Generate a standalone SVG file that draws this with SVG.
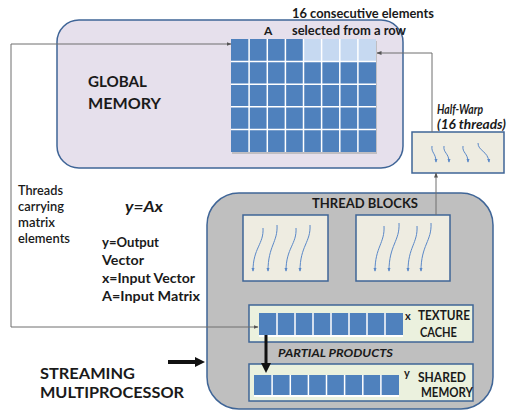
<svg xmlns="http://www.w3.org/2000/svg" width="507" height="414" viewBox="0 0 507 414">
<style>
.t{font-family:Lato,"Liberation Sans",sans-serif;fill:#1a1a1a}
.b{font-weight:bold}
.i{font-style:italic}
.conn{fill:none;stroke:#6f6f6f;stroke-width:1}
.sq{fill:none;stroke:#5a88c8;stroke-width:1}
.cell{fill:#4f81bd}
.grid{stroke:#fff;stroke-width:1.5}
.box{fill:#eeece1;stroke:#3f6597;stroke-width:1.5}
.green{fill:#ebf1de;stroke:#3f6597;stroke-width:1.5}
</style>
<defs>
<marker id="arr" viewBox="0 0 10 10" refX="9" refY="5" markerWidth="5" markerHeight="5" orient="auto-start-reverse" markerUnits="userSpaceOnUse"><path d="M0,1 L10,5 L0,9z" fill="#555"/></marker>
<marker id="sarr" viewBox="0 0 10 10" refX="8" refY="5" markerWidth="4" markerHeight="4" orient="auto" markerUnits="userSpaceOnUse"><path d="M0,1 L10,5 L0,9z" fill="#5a88c8"/></marker>
<marker id="barr" viewBox="0 0 10 10" refX="5" refY="5" markerWidth="10" markerHeight="10" orient="auto" markerUnits="userSpaceOnUse"><path d="M0,0 L10,5 L0,10z" fill="#111"/></marker>
</defs>
<rect width="507" height="414" fill="#fff"/>

<g id="global-memory">
<rect x="57" y="20" width="346" height="148" rx="22" fill="#e6e0ec" stroke="#3f6597" stroke-width="1.5"/>
<text class="t b" x="88" y="87" font-size="16" textLength="59" lengthAdjust="spacingAndGlyphs">GLOBAL</text>
<text class="t b" x="88" y="109" font-size="16" textLength="73" lengthAdjust="spacingAndGlyphs">MEMORY</text>
</g>

<g id="matrix-A">
<rect x="232" y="41" width="145" height="113" fill="#a6a6a6" opacity="0.6"/>
<rect class="cell" x="231" y="39" width="145" height="113"/>
<rect x="303.5" y="39" width="72.5" height="22.6" fill="#c6d9f1"/>
<g class="grid">
<line x1="249.1" y1="39" x2="249.1" y2="152"/>
<line x1="267.3" y1="39" x2="267.3" y2="152"/>
<line x1="285.4" y1="39" x2="285.4" y2="152"/>
<line x1="303.5" y1="39" x2="303.5" y2="152"/>
<line x1="321.6" y1="39" x2="321.6" y2="152"/>
<line x1="339.8" y1="39" x2="339.8" y2="152"/>
<line x1="357.9" y1="39" x2="357.9" y2="152"/>
<line x1="231" y1="61.6" x2="376" y2="61.6"/>
<line x1="231" y1="84.2" x2="376" y2="84.2"/>
<line x1="231" y1="106.8" x2="376" y2="106.8"/>
<line x1="231" y1="129.4" x2="376" y2="129.4"/>
</g>
<text class="t b" x="264" y="35" font-size="12">A</text>
<text class="t b" x="292" y="18" font-size="12.5" textLength="142" lengthAdjust="spacingAndGlyphs">16 consecutive elements</text>
<text class="t b" x="292" y="35" font-size="12.5" textLength="114" lengthAdjust="spacingAndGlyphs">selected from a row</text>
</g>

<g id="half-warp">
<rect class="box" x="412" y="132" width="92" height="41"/>
<path class="sq" marker-end="url(#sarr)" d="M432,146 C431,153 436,153 436,162"/>
<path class="sq" marker-end="url(#sarr)" d="M444,146 C443,153 449,153 449,162"/>
<path class="sq" marker-end="url(#sarr)" d="M463,146 C462,153 468,153 468,162"/>
<path class="sq" marker-end="url(#sarr)" d="M478,143 C478,151 488,151 489,162"/>
<text class="t b i" x="437" y="114" font-size="12.5" fill="#2a2a2a" textLength="46" lengthAdjust="spacingAndGlyphs">Half-Warp</text>
<text class="t b i" x="437" y="129" font-size="12.5" fill="#2a2a2a" textLength="69" lengthAdjust="spacingAndGlyphs">(16 threads)</text>
</g>

<g id="legend">
<text class="t" font-size="12.5" font-weight="600" x="18" y="195" textLength="45" lengthAdjust="spacingAndGlyphs">Threads</text>
<text class="t" font-size="12.5" font-weight="600" x="18" y="211" textLength="46" lengthAdjust="spacingAndGlyphs">carrying</text>
<text class="t" font-size="12.5" font-weight="600" x="18" y="227" textLength="37" lengthAdjust="spacingAndGlyphs">matrix</text>
<text class="t" font-size="12.5" font-weight="600" x="18" y="243" textLength="52" lengthAdjust="spacingAndGlyphs">elements</text>
<text class="t b i" font-size="15" x="125" y="212" textLength="38" lengthAdjust="spacingAndGlyphs">y=Ax</text>
<text class="t b" font-size="13.5" x="102" y="247" textLength="57" lengthAdjust="spacingAndGlyphs">y=Output</text>
<text class="t b" font-size="13.5" x="102" y="265" textLength="42" lengthAdjust="spacingAndGlyphs">Vector</text>
<text class="t b" font-size="13.5" x="102" y="283" textLength="93" lengthAdjust="spacingAndGlyphs">x=Input Vector</text>
<text class="t b" font-size="13.5" x="102" y="301" textLength="98" lengthAdjust="spacingAndGlyphs">A=Input Matrix</text>
</g>

<g id="streaming-multiprocessor">
<rect x="207" y="193" width="286" height="216" rx="32" fill="#bfbfbf" stroke="#3f6597" stroke-width="1.5"/>
<text class="t b" x="312" y="208" font-size="13" textLength="106" lengthAdjust="spacingAndGlyphs">THREAD BLOCKS</text>
</g>

<g id="thread-block-1">
<rect class="box" x="243" y="215" width="85" height="66"/>
<path class="sq" marker-end="url(#sarr)" d="M263,228 C264,244 253,248 253,271"/>
<path class="sq" marker-end="url(#sarr)" d="M277,225 C278,242 268,246 268,271"/>
<path class="sq" marker-end="url(#sarr)" d="M296,228 C297,244 286,248 286,271"/>
<path class="sq" marker-end="url(#sarr)" d="M310,225 C311,242 300,246 300,271"/>
</g>

<g id="thread-block-2">
<rect class="box" x="356" y="215" width="94" height="66"/>
<path class="sq" marker-end="url(#sarr)" d="M384,226 C385,243 375,247 375,271"/>
<path class="sq" marker-end="url(#sarr)" d="M399,223 C400,241 389,245 389,271"/>
<path class="sq" marker-end="url(#sarr)" d="M417,226 C418,243 408,247 408,271"/>
<path class="sq" marker-end="url(#sarr)" d="M431,223 C432,241 421,245 421,271"/>
</g>

<g id="texture-cache">
<rect class="green" x="249" y="305" width="224" height="37"/>
<rect x="259" y="335" width="144" height="2" fill="#fff"/>
<rect class="cell" x="259" y="313" width="144" height="22"/>
<g class="grid">
<line x1="277" y1="313" x2="277" y2="335"/><line x1="295" y1="313" x2="295" y2="335"/>
<line x1="313" y1="313" x2="313" y2="335"/><line x1="331" y1="313" x2="331" y2="335"/>
<line x1="349" y1="313" x2="349" y2="335"/><line x1="367" y1="313" x2="367" y2="335"/>
<line x1="385" y1="313" x2="385" y2="335"/>
</g>
<text class="t b" x="405" y="320" font-size="11">x</text>
<text class="t b" x="418" y="320" font-size="12.5" textLength="52" lengthAdjust="spacingAndGlyphs">TEXTURE</text>
<text class="t b" x="420" y="337" font-size="12.5" textLength="37" lengthAdjust="spacingAndGlyphs">CACHE</text>
</g>

<g id="shared-memory">
<rect class="green" x="249" y="364" width="224" height="37"/>
<rect x="254" y="395" width="145" height="2" fill="#fff"/>
<rect class="cell" x="254" y="375" width="145" height="20"/>
<g class="grid">
<line x1="272.1" y1="375" x2="272.1" y2="395"/><line x1="290.3" y1="375" x2="290.3" y2="395"/>
<line x1="308.4" y1="375" x2="308.4" y2="395"/><line x1="326.5" y1="375" x2="326.5" y2="395"/>
<line x1="344.6" y1="375" x2="344.6" y2="395"/><line x1="362.8" y1="375" x2="362.8" y2="395"/>
<line x1="380.9" y1="375" x2="380.9" y2="395"/>
</g>
<text class="t b" x="404" y="377" font-size="11">y</text>
<text class="t b" x="418" y="382" font-size="12.5" textLength="48" lengthAdjust="spacingAndGlyphs">SHARED</text>
<text class="t b" x="421" y="397" font-size="12.5" textLength="52" lengthAdjust="spacingAndGlyphs">MEMORY</text>
<text class="t b i" x="278" y="357" font-size="12" textLength="115" lengthAdjust="spacingAndGlyphs">PARTIAL PRODUCTS</text>
</g>

<g id="sm-label">
<text class="t b" x="40" y="379" font-size="15.5" textLength="95" lengthAdjust="spacingAndGlyphs">STREAMING</text>
<text class="t b" x="40" y="397.5" font-size="15.5" textLength="144" lengthAdjust="spacingAndGlyphs">MULTIPROCESSOR</text>
</g>

<g id="connectors">
<path class="conn" d="M231,44 H11 V327 H258" marker-start="url(#arr)" marker-end="url(#arr)"/>
<path class="conn" d="M432,132 V53 H377" marker-end="url(#arr)"/>
<path class="conn" d="M436,215 V173" marker-end="url(#arr)"/>
<line x1="266" y1="335" x2="266" y2="368" stroke="#111" stroke-width="3" marker-end="url(#barr)"/>
<line x1="168" y1="362" x2="200" y2="362" stroke="#111" stroke-width="4" marker-end="url(#barr)"/>
</g>
</svg>
